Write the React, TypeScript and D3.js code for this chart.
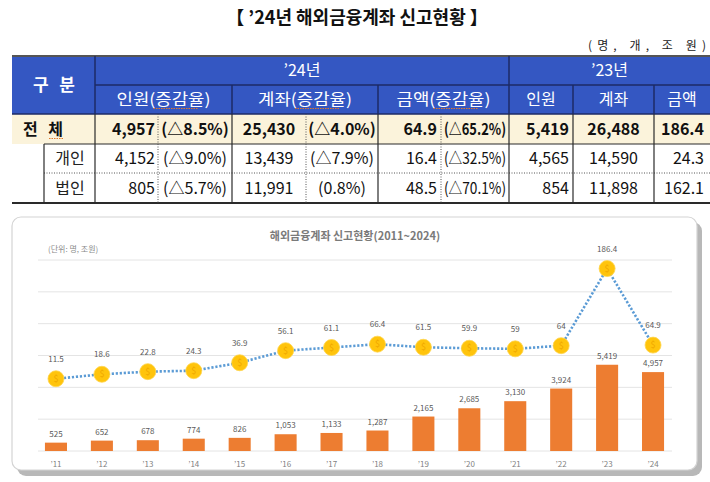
import React from "react";
import * as d3 from "d3";

// ---- Table data ----
const tableTitle = "【 ’24년 해외금융계좌 신고현황 】";
const unitText = "(명, 개, 조 원)";
const rowLabels = ["전 체", "개인", "법인"];
const people24 = ["4,957", "4,152", "805"];
const peopleRate24 = ["(△8.5%)", "(△9.0%)", "(△5.7%)"];
const accounts24 = ["25,430", "13,439", "11,991"];
const accountsRate24 = ["(△4.0%)", "(△7.9%)", "(0.8%)"];
const amount24 = ["64.9", "16.4", "48.5"];
const amountRate24 = ["(△65.2%)", "(△32.5%)", "(△70.1%)"];
const people23 = ["5,419", "4,565", "854"];
const accounts23 = ["26,488", "14,590", "11,898"];
const amount23 = ["186.4", "24.3", "162.1"];
const headerYears = ["’24년", "’23년"];
const subHeaders24 = ["인원(증감율)", "계좌(증감율)", "금액(증감율)"];
const subHeaders23 = ["인원", "계좌", "금액"];

// ---- Chart data ----
const chartTitle = "해외금융계좌 신고현황(2011~2024)";
const unitLabel = "(단위: 명, 조원)";
const years = ["’11", "’12", "’13", "’14", "’15", "’16", "’17", "’18", "’19", "’20", "’21", "’22", "’23", "’24"];
const peopleCounts = [525, 652, 678, 774, 826, 1053, 1133, 1287, 2165, 2685, 3130, 3924, 5419, 4957];
const amounts = [11.5, 18.6, 22.8, 24.3, 36.9, 56.1, 61.1, 66.4, 61.5, 59.9, 59, 64, 186.4, 64.9];

const FONT = "'Noto Sans CJK KR', 'Noto Sans', sans-serif";

export default function App() {
  // table geometry
  const rows = [114, 144, 173, 203];
  const hTop = 56, hMid = 85, hBot = 114;
  const cols = { l: 12, sub: 44, g: 95, p: 158, pe: 232, a: 306, ae: 378, m: 441, me: 509, p23: 573, a23: 654, r: 710 };
  const blue = "#3457C2";
  const dark = "#2a2a2a";
  const hdrLine = "#1c2a66";

  // chart scales
  const x = d3.scaleBand<string>().domain(years).range([33, 676]).paddingInner(0.52).paddingOuter(0.26);
  const yBar = d3.scaleLinear().domain([0, 12000]).range([451, 260]);
  const yLine = d3.scaleLinear().domain([0, 200]).range([386, 260]);
  const cx = (d: string) => (x(d) as number) + x.bandwidth() / 2;
  const linePath = d3.line<number>().x((_, i) => cx(years[i])).y((d) => yLine(d))(amounts) as string;
  const fmt = d3.format(",");

  const rowMid = (i: number) => (rows[i] + rows[i + 1]) / 2 + 5.5;

  const bodyCells: { vals: string[]; x: number; anchor: string; compress?: number }[] = [
    { vals: people24, x: cols.p - 3, anchor: "end" },
    { vals: peopleRate24, x: (cols.p + cols.pe) / 2, anchor: "middle" },
    { vals: accounts24, x: (cols.pe + cols.a) / 2, anchor: "middle" },
    { vals: accountsRate24, x: (cols.a + cols.ae) / 2, anchor: "middle" },
    { vals: amount24, x: cols.m - 4, anchor: "end" },
    { vals: amountRate24, x: (cols.m + cols.me) / 2, anchor: "middle", compress: 62 },
    { vals: people23, x: cols.p23 - 4, anchor: "end" },
    { vals: accounts23, x: (cols.p23 + cols.a23) / 2, anchor: "middle" },
    { vals: amount23, x: cols.r - 6, anchor: "end" },
  ];

  return (
    <div style={{ position: "fixed", left: 0, top: 0 }}>
      <svg width={710} height={482} style={{ display: "block", fontFamily: FONT }}>
        <rect width={710} height={482} fill="#fff" />
        {/* Title */}
        <text x={357} y={24} textAnchor="middle" fontSize={18} fontWeight="bold" fill="#111">{tableTitle}</text>
        <text x={706} y={50} textAnchor="end" fontSize={12} fill="#222" textLength={118} lengthAdjust="spacing">{unitText}</text>

        {/* Header */}
        <rect x={cols.l} y={hTop} width={cols.r - cols.l} height={hBot - hTop} fill={blue} />
        <rect x={cols.l} y={rows[0]} width={cols.r - cols.l} height={rows[1] - rows[0]} fill="#FBF3DB" />
        <line x1={cols.l} x2={cols.r} y1={hTop} y2={hTop} stroke="#555" strokeWidth={2} />
        <line x1={cols.g} x2={cols.r} y1={hMid} y2={hMid} stroke={hdrLine} strokeWidth={1.5} />
        <line x1={cols.l} x2={cols.r} y1={hBot} y2={hBot} stroke={hdrLine} strokeWidth={1.5} />
        {[cols.g, cols.me].map((v, i) => (
          <line key={"hv" + i} x1={v} x2={v} y1={hTop} y2={hBot} stroke={hdrLine} strokeWidth={1.5} />
        ))}
        {[cols.pe, cols.ae, cols.p23, cols.a23].map((v, i) => (
          <line key={"hv2" + i} x1={v} x2={v} y1={hMid} y2={hBot} stroke={hdrLine} strokeWidth={1.5} />
        ))}
        <text x={54} y={91} textAnchor="middle" fontSize={17} fill="#fff" fontWeight="bold" textLength={42} lengthAdjust="spacing">구 분</text>
        <text x={(cols.g + cols.me) / 2} y={76} textAnchor="middle" fontSize={16} fill="#fff">{headerYears[0]}</text>
        <text x={(cols.me + cols.r) / 2} y={76} textAnchor="middle" fontSize={16} fill="#fff">{headerYears[1]}</text>
        {subHeaders24.map((s, i) => {
          const xs = [[cols.g, cols.pe], [cols.pe, cols.ae], [cols.ae, cols.me]][i];
          return (
            <text key={"sh" + i} x={(xs[0] + xs[1]) / 2} y={105} textAnchor="middle" fontSize={16} fill="#fff" textLength={94} lengthAdjust="spacingAndGlyphs">{s}</text>
          );
        })}
        {subHeaders23.map((s, i) => {
          const xs = [[cols.me, cols.p23], [cols.p23, cols.a23], [cols.a23, cols.r]][i];
          return (
            <text key={"sh23" + i} x={(xs[0] + xs[1]) / 2} y={105} textAnchor="middle" fontSize={16} fill="#fff">{s}</text>
          );
        })}
        {/* squiggles under 증감율 */}
        {[[cols.g, cols.pe], [cols.pe, cols.ae], [cols.ae, cols.me]].map((xs, i) => (
          <line key={"sq" + i} x1={(xs[0] + xs[1]) / 2 - 10} x2={(xs[0] + xs[1]) / 2 + 34} y1={108.5} y2={108.5} stroke="#E0782A" strokeWidth={1} strokeDasharray="1.5 1" />
        ))}

        {/* Body lines */}
        <line x1={cols.sub} x2={cols.r} y1={rows[1]} y2={rows[1]} stroke={dark} strokeWidth={1.2} />
        <line x1={cols.sub} x2={cols.r} y1={rows[2]} y2={rows[2]} stroke="#555" strokeWidth={1} strokeDasharray="1 1.5" />
        <line x1={cols.l} x2={cols.r} y1={rows[3]} y2={rows[3]} stroke={dark} strokeWidth={2} />
        <line x1={cols.sub} x2={cols.sub} y1={rows[1]} y2={rows[3]} stroke={dark} strokeWidth={1.2} />
        {[cols.g, cols.pe, cols.ae, cols.me, cols.p23, cols.a23].map((v, i) => (
          <line key={"bv" + i} x1={v} x2={v} y1={rows[0]} y2={rows[3]} stroke={dark} strokeWidth={1.2} />
        ))}
        {[cols.p, cols.a, cols.m].map((v, i) => (
          <line key={"bd" + i} x1={v} x2={v} y1={rows[0]} y2={rows[3]} stroke="#555" strokeWidth={1} strokeDasharray="1 1.5" />
        ))}

        {/* Row labels */}
        <text x={43} y={rowMid(0)} textAnchor="middle" fontSize={16} fontWeight="bold" fill="#111" textLength={40} lengthAdjust="spacing">{rowLabels[0]}</text>
        <line x1={49} x2={63} y1={rowMid(0) + 4} y2={rowMid(0) + 4} stroke="#E0782A" strokeWidth={1} strokeDasharray="1.5 1" />
        <text x={70} y={rowMid(1)} textAnchor="middle" fontSize={16} fill="#222">{rowLabels[1]}</text>
        <text x={70} y={rowMid(2)} textAnchor="middle" fontSize={16} fill="#222">{rowLabels[2]}</text>

        {bodyCells.map((c, ci) =>
          c.vals.map((v, ri) => (
            <text
              key={`c${ci}-${ri}`}
              x={c.x}
              y={rowMid(ri)}
              textAnchor={c.anchor}
              fontSize={16}
              fontWeight={ri === 0 ? "bold" : "normal"}
              fill="#111"
              {...(c.compress ? { textLength: c.compress, lengthAdjust: "spacingAndGlyphs" } : {})}
            >
              {v}
            </text>
          ))
        )}

        {/* Chart panel */}
        <rect x={17} y={222} width={685} height={254} rx={9} fill="#b8b8b8" />
        <rect x={12} y={217} width={685} height={253} rx={9} fill="#fff" stroke="#d4d4d4" strokeWidth={1.2} />
        <text x={355} y={240} textAnchor="middle" fontSize={11} fill="#7a7a7a" fontWeight="bold">{chartTitle}</text>
        <text x={48} y={252} fontSize={8} fill="#8a8a8a">{unitLabel}</text>

        {/* gridlines */}
        {yBar.ticks(6).map((t) => (
          <line key={"g" + t} x1={38} x2={672} y1={yBar(t)} y2={yBar(t)} stroke="#e4e4e4" strokeWidth={1} />
        ))}

        {/* bars */}
        {peopleCounts.map((v, i) => (
          <g key={"b" + i}>
            <rect x={x(years[i])} y={yBar(v)} width={x.bandwidth()} height={yBar(0) - yBar(v)} fill="#ED7D31" />
            <text x={cx(years[i])} y={yBar(v) - 6} textAnchor="middle" fontSize={8} fill="#595959">{fmt(v)}</text>
            <text x={cx(years[i])} y={467} textAnchor="middle" fontSize={8} fill="#7f7f7f">{years[i]}</text>
          </g>
        ))}

        {/* line */}
        <path d={linePath} fill="none" stroke="#5B9BD5" strokeWidth={2.6} strokeDasharray="2.2 1.8" />
        {amounts.map((v, i) => (
          <g key={"p" + i}>
            <circle cx={cx(years[i])} cy={yLine(v)} r={8} fill="#FFC40C" stroke="#FFD54F" strokeWidth={0.8} />
            <text x={cx(years[i])} y={yLine(v) + 3.2} textAnchor="middle" fontSize={9} fill="#F0A800">$</text>
            <text x={cx(years[i])} y={yLine(v) - 17} textAnchor="middle" fontSize={8} fill="#595959">{String(v)}</text>
          </g>
        ))}
      </svg>
    </div>
  );
}
